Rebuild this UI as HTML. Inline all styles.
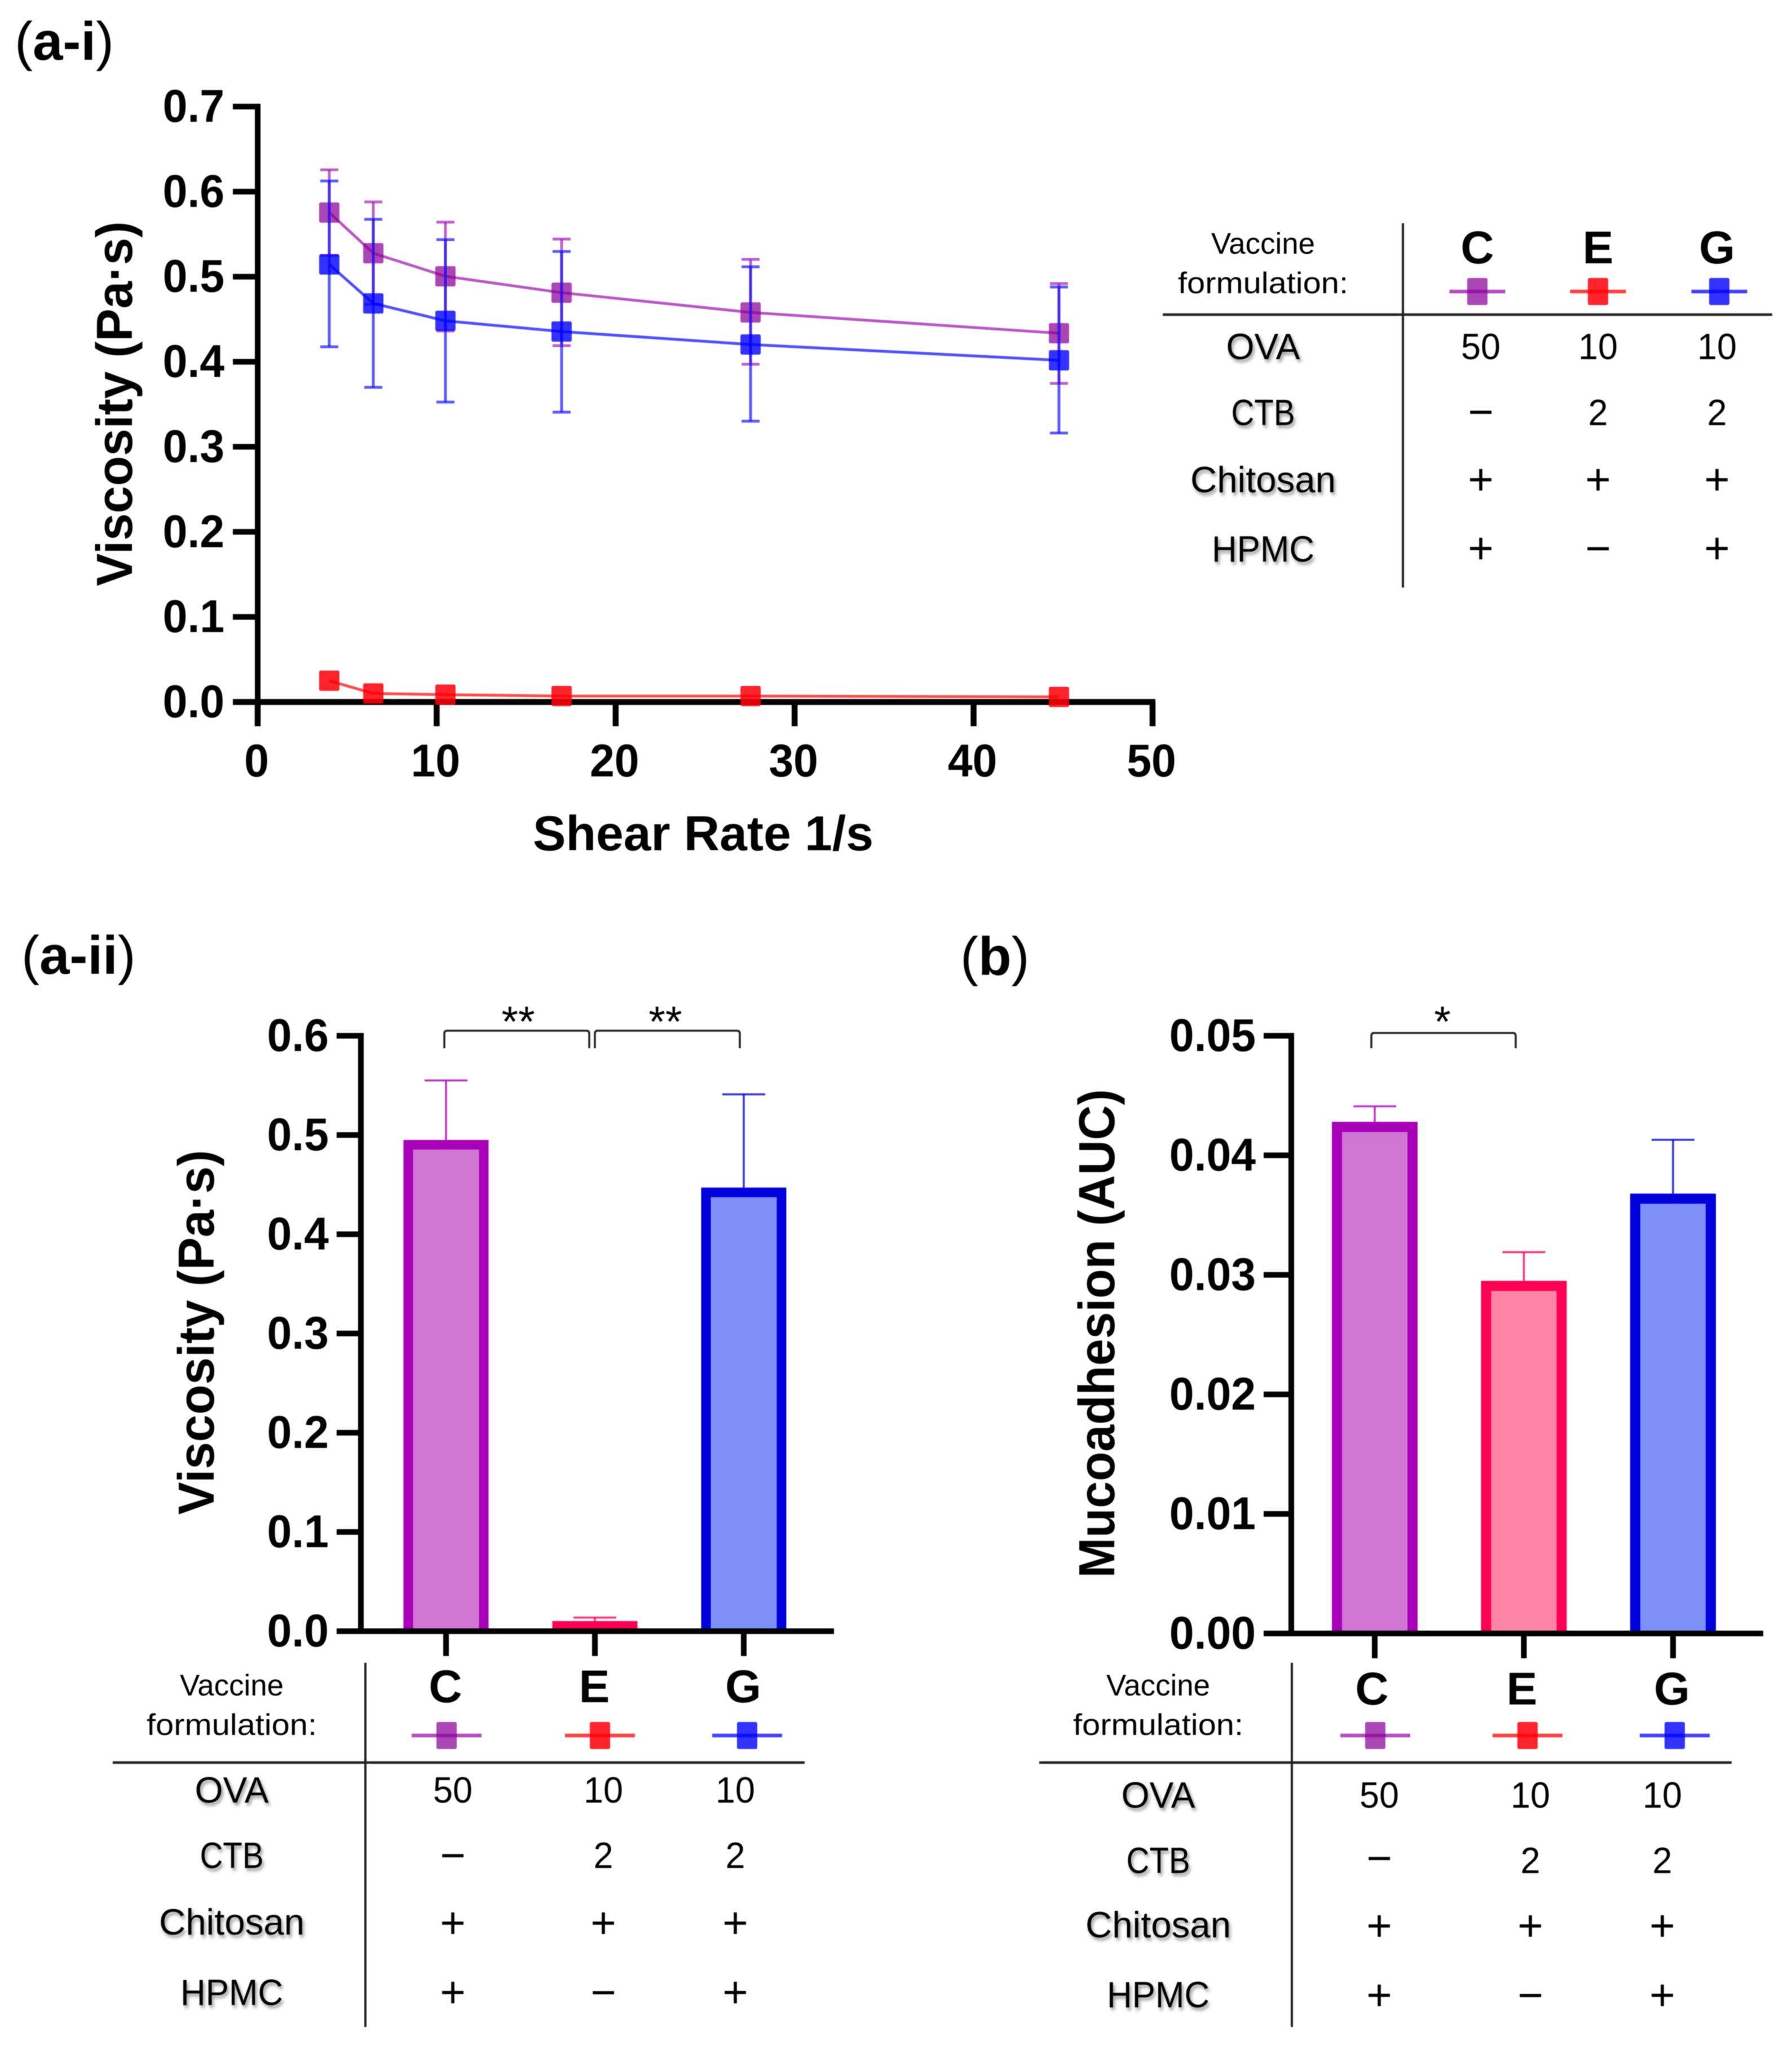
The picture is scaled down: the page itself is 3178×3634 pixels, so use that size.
<!DOCTYPE html>
<html lang="en">
<head>
<meta charset="utf-8">
<title>Viscosity and mucoadhesion of vaccine formulations</title>
<style>
html,body{margin:0;padding:0;background:#fff;}
svg{display:block;width:3178px;height:3634px;font-family:"Liberation Sans",sans-serif;filter:blur(0.8px);}
.shadow{filter:drop-shadow(3px 5px 3px rgba(0,0,0,.4));}
</style>
</head>
<body>
<svg id="figure" xmlns="http://www.w3.org/2000/svg" width="3178" height="3634" viewBox="0 0 3178 3634">
  <rect width="3178" height="3634" fill="#ffffff"/>
  <text x="26" y="106" font-size="96"><tspan>(</tspan><tspan font-weight="bold">a-i</tspan><tspan>)</tspan></text>
  <text x="38" y="1727" font-size="96"><tspan>(</tspan><tspan font-weight="bold">a-ii</tspan><tspan>)</tspan></text>
  <text x="1703" y="1729" font-size="96"><tspan>(</tspan><tspan font-weight="bold">b</tspan><tspan>)</tspan></text>
  <g id="chart-a-i"></g>
  <g id="chart-a-ii"></g>
  <g id="chart-b"></g>
  <g id="tables"></g>
</svg>
<script>
// ---- Panel a-i data ----
const shearRates = [4.0, 6.46, 10.49, 16.98, 27.54, 44.77];
const viscC = [0.5754, 0.5276, 0.5005, 0.4812, 0.4580, 0.4335];
const viscCUpper = [0.6257, 0.5879, 0.5641, 0.5442, 0.5204, 0.4919];
const viscCLower = [0.525, 0.4673, 0.4362, 0.4189, 0.3971, 0.3745];
const viscG = [0.5144, 0.4686, 0.4481, 0.4355, 0.4203, 0.4017];
const viscGUpper = [0.6125, 0.5674, 0.5436, 0.5296, 0.5117, 0.4879];
const viscGLower = [0.4176, 0.3699, 0.3526, 0.3407, 0.3301, 0.3162];
const viscE = [0.025, 0.010, 0.0086, 0.007, 0.007, 0.006];
const lineXTicks = [0, 10, 20, 30, 40, 50];
const lineYTicks = ["0.0", "0.1", "0.2", "0.3", "0.4", "0.5", "0.6", "0.7"];

// ---- Panel a-ii data ----
const categories = ["C", "E", "G"];
const barViscosity = [0.495, 0.0102, 0.447];
const barViscosityUpper = [0.555, 0.0137, 0.541];
const barViscosityYTicks = ["0.0", "0.1", "0.2", "0.3", "0.4", "0.5", "0.6"];

// ---- Panel b data ----
const barMucoadhesion = [0.0428, 0.0295, 0.0368];
const barMucoadhesionUpper = [0.0441, 0.0319, 0.0413];
const barMucoadhesionYTicks = ["0.00", "0.01", "0.02", "0.03", "0.04", "0.05"];

// ---- Table data ----
const rowLabels = ["OVA", "CTB", "Chitosan", "HPMC"];
const ovaValues = ["50", "10", "10"];
const ctbValues = ["\u2212", "2", "2"];
const chitosanValues = ["+", "+", "+"];
const hpmcValues = ["+", "\u2212", "+"];

const NS = "http://www.w3.org/2000/svg";
const colors = {
  C: {stroke: "#a800b8", fill: "#cf76d3", line: "#a020b0", marker: "#8a0098", alpha: 0.72},
  E: {stroke: "#ff0055", fill: "#ff85a6", line: "#ff1010", marker: "#ff0008", alpha: 0.86},
  G: {stroke: "#0000dd", fill: "#7d90f8", line: "#1414ff", marker: "#0000ff", alpha: 0.8}
};

function mk(parent, tag, attrs, name, interactable, content) {
  const el = document.createElementNS(NS, tag);
  for (const k in attrs) el.setAttribute(k, attrs[k]);
  
  
  if (content !== undefined) el.textContent = content;
  parent.appendChild(el);
  return el;
}
function line(p, x1, y1, x2, y2, stroke, w, name, op) {
  const a = {x1, y1, x2, y2, stroke, "stroke-width": w};
  if (op !== undefined) a["stroke-opacity"] = op;
  return mk(p, "line", a, name, false);
}
function txt(p, x, y, s, size, anchor, weight, name, extra) {
  const a = Object.assign({x, y, "font-size": size, "text-anchor": anchor, "font-weight": weight}, extra || {});
  return mk(p, "text", a, name, false, s);
}
// Slightly condensed bold numerals, as in the reference tick labels
function tickText(p, x, y, s, anchor, name) {
  let adv = 0;
  for (const ch of s) adv += ch === "." ? 0.278 : 0.556;
  return txt(p, x, y, s, 82, anchor, "bold", name, {textLength: (adv * 82 * 0.96).toFixed(1), lengthAdjust: "spacingAndGlyphs"});
}

// ---------- Panel a-i ----------
(function () {
  const g = document.getElementById("chart-a-i");
  const xA = v => 457 + v * (2044 - 457) / 50;
  const yA = v => 1245 - v * (1245 - 189) / 0.7;
  line(g, xA(0), yA(0.7) - 5, xA(0), yA(0) + 5, "#000", 10, "y-axis");
  line(g, 413, yA(0), xA(50) + 5, yA(0), "#000", 10.5, "x-axis");
  lineYTicks.forEach(t => {
    const y = yA(+t);
    line(g, 413, y, xA(0), y, "#000", 10, "y-tick-" + t);
    tickText(g, 398, y + 27, t, "end", "y-tick-label-" + t);
  });
  lineXTicks.forEach(t => {
    line(g, xA(t), yA(0), xA(t), 1288, "#000", 10.5, "x-tick-" + t);
    tickText(g, xA(t) - 2, 1377, String(t), "middle", "x-tick-label-" + t);
  });
  txt(g, 1247, 1508, "Shear Rate 1/s", 87, "middle", "bold", "x-axis-title", {textLength: 604, lengthAdjust: "spacingAndGlyphs"});
  txt(g, 0, 0, "Viscosity (Pa\u00b7s)", 90, "middle", "bold", "y-axis-title", {textLength: 647, lengthAdjust: "spacingAndGlyphs", transform: "translate(234,716) rotate(-90)"});

  const series = [
    {key: "C", vals: viscC, up: viscCUpper, lo: viscCLower},
    {key: "G", vals: viscG, up: viscGUpper, lo: viscGLower},
    {key: "E", vals: viscE}
  ];
  series.forEach(s => {
    const c = colors[s.key];
    const sg = mk(g, "g", {}, "series-" + s.key, false);
    const pts = s.vals.map((v, i) => xA(shearRates[i]) + "," + yA(v)).join(" ");
    mk(sg, "polyline", {points: pts, fill: "none", stroke: c.line, "stroke-width": 5, "stroke-opacity": 0.75}, "line-" + s.key, false);
    s.vals.forEach((v, i) => {
      const x = xA(shearRates[i]);
      if (s.up) {
        line(sg, x, yA(s.up[i]), x, yA(s.lo[i]), c.line, 5, "error-bar-" + s.key + "-" + i, 0.7);
        line(sg, x - 16, yA(s.up[i]), x + 16, yA(s.up[i]), c.line, 5, "error-cap-upper-" + s.key + "-" + i, 0.7);
        line(sg, x - 16, yA(s.lo[i]), x + 16, yA(s.lo[i]), c.line, 5, "error-cap-lower-" + s.key + "-" + i, 0.7);
      }
      mk(sg, "rect", {x: x - 18, y: yA(v) - 18, width: 36, height: 36, rx: 3, fill: c.marker, "fill-opacity": c.alpha}, "point-" + s.key + "-" + i, false);
    });
  });
})();

// ---------- Bar chart helper ----------
function barChart(g, cfg) {
  const yB = v => cfg.y0 - v * (cfg.y0 - cfg.yTop) / cfg.max;
  const xB = i => cfg.x0 + i * cfg.step;
  cfg.values.forEach((v, i) => {
    const c = colors[categories[i]];
    const hw = cfg.barWidth / 2;
    const sw = cfg.barStroke;
    const yt = yB(v);
    line(g, xB(i), yB(cfg.upper[i]), xB(i), yt, c.stroke, 3.5, "error-bar-" + categories[i], 0.8);
    line(g, xB(i) - 38, yB(cfg.upper[i]), xB(i) + 38, yB(cfg.upper[i]), c.stroke, 3.5, "error-cap-" + categories[i], 0.8);
    const xl = xB(i) - hw + sw / 2;
    const xr = xB(i) + hw - sw / 2;
    const top = Math.min(yt + sw / 2, cfg.y0);
    // Open path: fill reaches the baseline and no stroke runs along the bottom edge
    mk(g, "path", {d: "M" + xl + " " + cfg.y0 + "V" + top + "H" + xr + "V" + cfg.y0, fill: c.fill, stroke: c.stroke, "stroke-width": sw}, "bar-" + categories[i], false);
  });
  line(g, cfg.axisX, cfg.yTop - 5, cfg.axisX, cfg.y0 + 5, "#000", 10, "y-axis");
  line(g, cfg.tickLeft, cfg.y0, cfg.right, cfg.y0, "#000", 10, "x-axis");
  cfg.ticks.forEach(t => {
    const y = yB(+t);
    line(g, cfg.tickLeft, y, cfg.axisX, y, "#000", 10, "y-tick-" + t);
    tickText(g, cfg.labelRight, y + 27, t, "end", "y-tick-label-" + t);
  });
  categories.forEach((k, i) => line(g, xB(i), cfg.y0, xB(i), cfg.y0 + 44, "#000", 10, "x-tick-" + k));
  txt(g, 0, 0, cfg.title, 90, "middle", "bold", "y-axis-title", {textLength: cfg.titleLen, lengthAdjust: "spacingAndGlyphs", transform: "translate(" + cfg.titleX + "," + cfg.titleY + ") rotate(-90)"});
  cfg.brackets.forEach((b, n) => {
    mk(g, "path", {d: "M" + b.a + " 1859V" + (b.y + 5) + "Q" + b.a + " " + b.y + " " + (b.a + 5) + " " + b.y + "H" + (b.b - 5) + "Q" + b.b + " " + b.y + " " + b.b + " " + (b.y + 5) + "V1859", fill: "none", stroke: "#222", "stroke-width": 3.5}, "significance-bracket-" + n, false);
    txt(g, b.sx, 1838, b.s, 76, "middle", "normal", "significance-stars-" + n);
  });
}

barChart(document.getElementById("chart-a-ii"), {
  values: barViscosity, upper: barViscosityUpper, ticks: barViscosityYTicks,
  max: 0.6, y0: 2893, yTop: 1837, x0: 791, step: 264, barWidth: 151, barStroke: 17,
  axisX: 640, tickLeft: 597, right: 1479, labelRight: 583,
  title: "Viscosity (Pa\u00b7s)", titleLen: 647, titleX: 379, titleY: 2363,
  brackets: [{a: 788, b: 1045, y: 1828, s: "**", sx: 919}, {a: 1055, b: 1312, y: 1828, s: "**", sx: 1180}]
});
barChart(document.getElementById("chart-b"), {
  values: barMucoadhesion, upper: barMucoadhesionUpper, ticks: barMucoadhesionYTicks,
  max: 0.05, y0: 2897, yTop: 1837, x0: 2438, step: 264.5, barWidth: 152, barStroke: 18,
  axisX: 2290, tickLeft: 2241, right: 3127, labelRight: 2227,
  title: "Mucoadhesion (AUC)", titleLen: 867, titleX: 1976, titleY: 2365,
  brackets: [{a: 2432, b: 2688, y: 1832, s: "*", sx: 2558}]
});

// ---------- Tables ----------
function table(g, L, id) {
  const tg = mk(g, "g", {}, "formulation-table-" + id, false);
  line(tg, L.vx, L.vTop, L.vx, L.vBottom, "#222", 4, "table-vertical-rule");
  line(tg, L.hLeft, L.hy, L.hRight, L.hy, "#222", 4.5, "table-header-rule");
  txt(tg, L.labelX, L.vaccineY, "Vaccine", 53, "middle", "normal", "table-header-vaccine", {textLength: 184, lengthAdjust: "spacingAndGlyphs"});
  txt(tg, L.labelX, L.formY, "formulation:", 53, "middle", "normal", "table-header-formulation", {textLength: 302, lengthAdjust: "spacingAndGlyphs"});
  categories.forEach((k, i) => {
    txt(tg, L.headX[i], L.headY, k, 82, "middle", "bold", "table-column-" + k);
    const c = colors[k];
    const leg = mk(tg, "g", {}, "legend-entry-" + k, false);
    line(leg, L.markX[i] - L.legW / 2, L.markY, L.markX[i] + L.legW / 2, L.markY, c.line, 6.5, "legend-line-" + k, 0.8);
    mk(leg, "rect", {x: L.markX[i] - 18, y: L.markY - 24, width: 36, height: 48, rx: 3, fill: c.marker, "fill-opacity": c.alpha}, "legend-marker-" + k, false);
  });
  const labelWidths = [131, 113, 258, 182];
  const rowValues = [ovaValues, ctbValues, chitosanValues, hpmcValues];
  rowLabels.forEach((r, n) => {
    const t = txt(tg, L.labelX, L.rowY[n], r, 65, "middle", "normal", "table-row-label-" + r, {textLength: labelWidths[n], lengthAdjust: "spacingAndGlyphs"});
    t.setAttribute("class", "shadow");
    rowValues[n].forEach((v, i) => {
      const sym = v === "+" || v === "\u2212";
      txt(tg, L.valX[i], sym ? L.symY[n] : L.rowY[n], v, sym ? 78 : 65, "middle", "normal", "table-cell-" + r + "-" + categories[i], sym ? {} : {textLength: v.length * 35, lengthAdjust: "spacingAndGlyphs"});
    });
  });
}
const tablesGroup = document.getElementById("tables");
table(tablesGroup, {
  vx: 2488, vTop: 396, vBottom: 1042, hLeft: 2062, hRight: 3143, hy: 558,
  labelX: 2240, vaccineY: 450, formY: 520, headX: [2620, 2834, 3045], headY: 467,
  markX: [2620, 2834, 3049], markY: 517, legW: 99, valX: [2626, 2834, 3045],
  rowY: [637, 754, 873, 996], symY: [757, 757, 877, 999]
}, "a-i");
table(tablesGroup, {
  vx: 648, vTop: 2949, vBottom: 3595, hLeft: 200, hRight: 1427, hy: 3126,
  labelX: 411, vaccineY: 3007, formY: 3077, headX: [790, 1054, 1318], headY: 3019,
  markX: [792, 1064, 1325], markY: 3078, legW: 124, valX: [803, 1070, 1304],
  rowY: [3197, 3313, 3431, 3556], symY: [3317, 3317, 3437, 3560]
}, "a-ii");
table(tablesGroup, {
  vx: 2291, vTop: 2949, vBottom: 3595, hLeft: 1843, hRight: 3071, hy: 3126,
  labelX: 2054, vaccineY: 3007, formY: 3077, headX: [2433, 2699, 2965], headY: 3023,
  markX: [2439, 2709, 2970], markY: 3078, legW: 124, valX: [2446, 2714, 2948],
  rowY: [3206, 3322, 3436, 3560], symY: [3322, 3322, 3442, 3565]
}, "b");
</script>
</body>
</html>
